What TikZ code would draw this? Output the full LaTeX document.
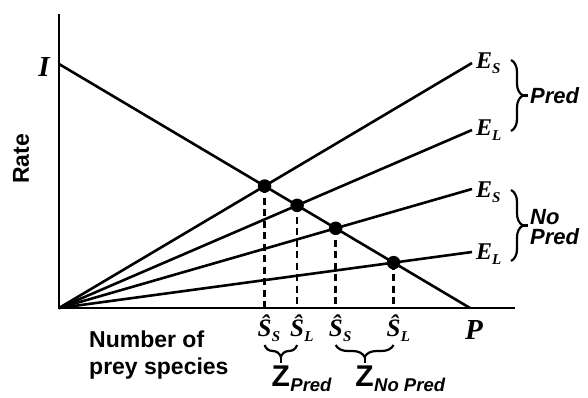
\documentclass[tikz,border=0pt]{standalone}
\usepackage{fontspec}
\setmainfont{Liberation Serif}
\setsansfont{Liberation Sans}
\usetikzlibrary{intersections,calc,decorations.pathreplacing}
\newcommand\subl[1]{\raisebox{-5pt}{\fontsize{15}{15}\selectfont #1}}
\begin{document}
\begin{tikzpicture}[x=1pt,y=-1pt,
  axis/.style={line width=2.7pt},
  curve/.style={line width=2.6pt},
  dot/.style={circle,fill=black,inner sep=0pt,minimum size=13.5pt},
  dashline/.style={line width=2.5pt,dash pattern=on 7pt off 4.5pt},
  serlab/.style={inner sep=0pt,font=\fontsize{24}{24}\selectfont\bfseries\itshape},
  hatlab/.style={inner sep=0pt,font=\fontsize{25}{25}\selectfont\bfseries\itshape},
  biglab/.style={inner sep=0pt,font=\fontsize{29}{29}\selectfont\bfseries\itshape},
  sanslab/.style={inner sep=0pt,font=\fontsize{23}{27}\selectfont\sffamily\bfseries},
  predlab/.style={inner sep=0pt,font=\fontsize{22}{20}\selectfont\sffamily\bfseries\itshape},
  zlab/.style={inner sep=0pt,font=\fontsize{30}{30}\selectfont\sffamily\bfseries},
  zsub/.style={inner sep=0pt,font=\fontsize{18.5}{18.5}\selectfont\sffamily\bfseries\itshape},
  brc/.style={line width=2.2pt,decorate,decoration={brace,amplitude=12pt}},
  stem/.style={line width=2.2pt},
]
\useasboundingbox (0,0) rectangle (588,398);
% axes
\coordinate (O) at (59,308);
\coordinate (ytop) at (59,14);
\coordinate (xend) at (515,308);
\draw[axis] (ytop) -- (O) -- (xend);
% decreasing line
\coordinate (Itop) at (59,64);
\coordinate (Pend) at (470,308);
\draw[curve,name path=dec] (Itop) -- (Pend);
% E lines
\coordinate (e1) at (472,63);
\coordinate (e2) at (472,130);
\coordinate (e3) at (472,189);
\coordinate (e4) at (472,252);
\draw[curve,name path=l1] (O) -- (e1);
\draw[curve,name path=l2] (O) -- (e2);
\draw[curve,name path=l3] (O) -- (e3);
\draw[curve,name path=l4] (O) -- (e4);
\path[name intersections={of=dec and l1,by=i1}];
\path[name intersections={of=dec and l2,by=i2}];
\path[name intersections={of=dec and l3,by=i3}];
\path[name intersections={of=dec and l4,by=i4}];
\foreach \k in {1,2,3,4}{
  \node[dot] (d\k) at (i\k) {};
  \draw[dashline] (d\k.center) -- (d\k |- O);
}
% axis labels
\node[biglab] (Ilab) at (44,67) {I};
\node[biglab,anchor=north] (Plab) at (474,320) {P};
\node[sanslab,rotate=90] (rate) at (21,159) {Rate};
\node[sanslab,align=left,anchor=north west] (nps) at (89,331) {Number of\\prey species};
% E labels
\node[serlab,anchor=west] (E1) at (476,63) {E\subl{S}};
\node[serlab,anchor=west] (E2) at (476,130) {E\subl{L}};
\node[serlab,anchor=west] (E3) at (476,192) {E\subl{S}};
\node[serlab,anchor=west] (E4) at (476,254) {E\subl{L}};
% right braces
\coordinate (bp1) at (511,60);
\coordinate (bp2) at (511,131);
\coordinate (bn1) at (511,190);
\coordinate (bn2) at (511,261);
\draw[brc] (bp1) -- (bp2);
\draw[brc] (bn1) -- (bn2);
\draw[stem] ($(bp1)!0.5!(bp2)+(11,0)$) -- ++(6,0);
\draw[stem] ($(bn1)!0.5!(bn2)+(11,0)$) -- ++(6,0);
\node[predlab,anchor=west] (pred) at (530,96) {Pred};
\node[predlab,anchor=west,align=left] (nopred) at (530,227) {No\\Pred};
% S-hat labels
\foreach \k/\s in {1/S,2/L,3/S,4/L}{
  \node[hatlab,anchor=north] (s\k) at ($(d\k |- O)+(0,7)$) {\strut\^S};
  \node[inner sep=0pt,font=\fontsize{15}{15}\selectfont\bfseries\itshape,anchor=base west] (ss\k) at ([yshift=-5pt]s\k.base east) {\s};
}
% bottom braces
\coordinate (b1a) at ($(d1 |- O)+(0,37)$);
\coordinate (b1b) at ($(d2 |- O)+(0,37)$);
\coordinate (b2a) at ($(d3 |- O)+(0,37)$);
\coordinate (b2b) at ($(d4 |- O)+(0,37)$);
\draw[brc] (b1b) -- (b1a);
\draw[brc] (b2b) -- (b2a);
\draw[stem] ($(b1a)!0.5!(b1b)+(0,11)$) -- ++(0,7);
\draw[stem] ($(b2a)!0.5!(b2b)+(0,11)$) -- ++(0,7);
% Z labels
\node[zlab,anchor=north] (z1) at ($(b1a)!0.5!(b1b)+(0,21)$) {Z};
\node[zsub,anchor=base west] (z1s) at ([yshift=-5pt]z1.base east) {Pred};
\node[zlab,anchor=north] (z2) at ($(b2a)!0.5!(b2b)+(0,21)$) {Z};
\node[zsub,anchor=base west] (z2s) at ([yshift=-5pt]z2.base east) {No Pred};
\end{tikzpicture}
\end{document}
